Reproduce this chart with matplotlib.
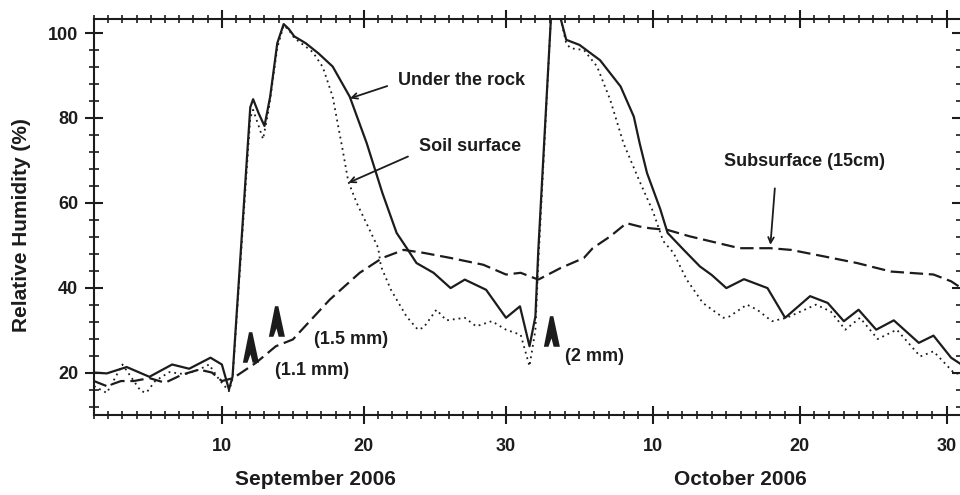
import numpy as np
import matplotlib
matplotlib.use("Agg")
import matplotlib.pyplot as plt
from matplotlib.path import Path
from matplotlib.ticker import FixedLocator, MultipleLocator
from matplotlib.transforms import blended_transform_factory

# day index: 1..30 = September, 31..61 = October
rock_day = [1.0, 1.9, 3.3, 4.9, 6.5, 7.7, 9.2, 10.0, 10.5, 10.75, 12.0, 12.2, 12.6, 13.0,
            13.4, 13.9, 14.35, 14.7, 15.1, 15.9, 16.8, 17.8, 19.0, 20.2, 21.3, 22.3, 23.0,
            23.7, 24.9, 26.1, 27.1, 28.6, 30.0, 30.95, 31.6, 32.0, 32.2, 33.05, 33.4, 33.75,
            34.1, 35.0, 36.4, 37.8, 38.7, 39.1, 39.6, 40.5, 41.0, 42.1, 43.2, 44.0, 45.0,
            46.2, 47.8, 49.0, 50.7, 51.9, 53.0, 54.0, 55.2, 56.4, 58.1, 59.1, 60.3, 61.0]
rock_rh = [20.0, 19.8, 21.3, 19.0, 21.9, 20.9, 23.5, 21.9, 16.0, 19.0, 82.5, 84.4, 81.0, 78.1,
           85.0, 97.6, 102.1, 101.0, 99.2, 97.6, 95.2, 92.1, 85.0, 74.0, 62.3, 52.9, 49.4,
           45.8, 43.5, 39.9, 41.9, 39.5, 32.9, 35.6, 26.2, 33.2, 48.9, 103.0, 106.0, 103.0,
           98.4, 97.2, 93.6, 87.4, 80.3, 74.0, 67.0, 58.5, 52.9, 48.9, 45.0, 43.0, 39.9,
           42.0, 39.9, 32.9, 38.0, 36.4, 32.1, 34.8, 30.1, 32.3, 27.0, 28.7, 23.5, 21.9]

soil_day = [1.0, 1.9, 3.0, 4.3, 4.7, 5.3, 6.3, 7.4, 8.4, 9.1, 9.8, 10.5, 10.75, 12.0, 12.2,
            12.6, 12.9, 13.3, 13.9, 14.35, 14.7, 15.1, 15.9, 16.4, 17.1, 17.8, 18.5, 18.9,
            19.5, 20.5, 21.0, 21.2, 21.9, 23.0, 23.8, 24.2, 25.1, 25.8, 27.1, 27.9, 29.0,
            30.0, 31.0, 31.6, 32.0, 32.2, 33.05, 33.4, 33.75, 34.1, 34.4, 35.3, 36.2, 37.1,
            38.0, 39.1, 40.0, 40.7, 41.4, 42.3, 43.4, 44.8, 45.2, 46.4, 47.1, 48.1, 49.1,
            51.1, 52.1, 53.1, 54.1, 55.3, 56.6, 58.2, 59.1, 60.5, 61.0]
soil_rh = [16.8, 15.2, 21.9, 15.6, 15.3, 18.0, 20.1, 19.6, 20.7, 21.9, 18.4, 15.6, 18.5, 80.0,
           81.9, 78.0, 75.0, 82.0, 96.5, 101.8, 100.8, 98.8, 96.8, 95.5, 92.0, 85.0, 72.5,
           65.0, 59.9, 52.9, 49.4, 45.0, 39.5, 33.2, 30.1, 30.6, 34.8, 32.3, 32.9, 30.9,
           32.1, 30.1, 28.9, 21.5, 30.0, 46.0, 103.0, 106.0, 103.0, 97.5, 96.4, 96.0, 92.1,
           84.2, 74.0, 65.0, 58.0, 51.0, 48.2, 41.9, 36.4, 32.9, 33.2, 36.0, 34.8, 32.1,
           32.9, 36.0, 34.4, 30.1, 32.9, 27.9, 30.1, 23.8, 25.0, 19.9, 19.6]

sub_day = [1.0, 1.9, 2.9, 3.8, 4.9, 6.0, 7.2, 8.4, 9.3, 10.0, 10.8, 12.4, 13.8, 15.0, 16.6,
           17.6, 19.7, 21.3, 22.8, 24.2, 26.1, 28.4, 30.0, 31.0, 32.2, 33.7, 35.3, 35.9,
           37.1, 38.2, 39.1, 39.8, 41.0, 42.5, 45.9, 48.0, 49.4, 51.6, 53.9, 56.2, 59.1,
           60.3, 61.0]
sub_rh = [18.0, 16.8, 18.0, 18.0, 18.7, 17.6, 19.5, 20.7, 20.0, 18.0, 18.7, 22.3, 26.2, 27.8,
          33.6, 37.2, 43.5, 47.0, 48.9, 48.2, 47.0, 45.4, 43.1, 43.5, 41.9, 44.6, 47.0, 49.3,
          52.1, 55.2, 54.4, 54.0, 53.6, 52.1, 49.3, 49.3, 48.9, 47.4, 45.8, 43.8, 43.1,
          41.5, 39.9]

tick_days = [10, 20, 30, 40, 50, 60]
tick_labels = ['10', '20', '30', '10', '20', '30']

# rain events, marker placed just above the curves
rain_day = [11.95, 13.78, 33.03]
rain_rh = [26.0, 32.1, 29.8]

INK = '#1c1c1c'
OCT_STRETCH = 1.034  # October days are spaced a bit wider than September ones


def fwd(d):
    d = np.asarray(d, dtype=float)
    return np.where(d <= 30, d, 30 + (d - 30) * OCT_STRETCH)


def inv(x):
    x = np.asarray(x, dtype=float)
    return np.where(x <= 30, x, 30 + (x - 30) / OCT_STRETCH)


plt.rcParams['font.family'] = ['Liberation Sans', 'DejaVu Sans']
plt.rcParams['font.weight'] = 'bold'

fig = plt.figure(figsize=(9.6, 4.95), dpi=100)
ax = fig.add_axes([94 / 960, 80 / 495, 867.4 / 960, 396 / 495])
ax.set_xscale('function', functions=(fwd, inv))

ax.plot(rock_day, rock_rh, color=INK, lw=1.6, solid_joinstyle='round')
ax.plot(soil_day, soil_rh, color=INK, lw=1.3, linestyle=(0, (1, 2.2)))
ax.plot(sub_day, sub_rh, color=INK, lw=1.6, linestyle=(0, (6, 2.6)))

ax.set_xlim(1, 61)
ax.set_ylim(10, 103.3)

ax.xaxis.set_major_locator(FixedLocator(tick_days))
ax.xaxis.set_minor_locator(MultipleLocator(1))
ax.set_xticklabels(tick_labels)
ax.yaxis.set_major_locator(MultipleLocator(20))
ax.yaxis.set_minor_locator(MultipleLocator(4))

for s in ax.spines.values():
    s.set_linewidth(1.5)
    s.set_color(INK)

ax.tick_params(which='both', direction='inout', top=True, right=True,
               color=INK, labelcolor=INK, labelsize=13)
ax.tick_params(axis='x', which='major', length=13, width=1.5, pad=10)
ax.tick_params(axis='x', which='minor', length=6, width=1.2)
ax.tick_params(axis='y', which='major', length=13, width=1.5, pad=5)
ax.tick_params(axis='y', which='minor', length=7, width=1.2)
for lbl in ax.get_xticklabels() + ax.get_yticklabels():
    lbl.set_fontweight('bold')

ax.set_ylabel('Relative Humidity (%)', fontsize=15, fontweight='bold', color=INK)
ax.yaxis.set_label_coords(-0.073, 0.48)

trans = blended_transform_factory(ax.transData, ax.transAxes)
ax.text(16.56, -0.164, 'September 2006', transform=trans, ha='center', va='center',
        fontsize=15, fontweight='bold', color=INK)
ax.text(45.96, -0.164, 'October 2006', transform=trans, ha='center', va='center',
        fontsize=15, fontweight='bold', color=INK)

# series labels with pointer arrows
arrow = dict(arrowstyle='->', color=INK, lw=1.3, shrinkA=0, shrinkB=0)
ax.text(26.9, 88.9, 'Under the rock', ha='center', va='center', fontsize=13, color=INK)
ax.annotate('', xy=(19.02, 84.6), xytext=(21.64, 87.5), arrowprops=arrow)
ax.text(27.5, 73.2, 'Soil surface', ha='center', va='center', fontsize=13, color=INK)
ax.annotate('', xy=(18.9, 64.7), xytext=(23.1, 70.9), arrowprops=arrow)
ax.text(50.35, 69.7, 'Subsurface (15cm)', ha='center', va='center', fontsize=13, color=INK)
ax.annotate('', xy=(48.0, 50.1), xytext=(48.3, 63.4), arrowprops=arrow)

# rainfall amounts
ax.text(19.09, 27.8, '(1.5 mm)', ha='center', va='center', fontsize=13, color=INK)
ax.text(16.35, 20.6, '(1.1 mm)', ha='center', va='center', fontsize=13, color=INK)
ax.text(36.0, 23.9, '(2 mm)', ha='center', va='center', fontsize=13, color=INK)

# heavy caret used to flag each rain event
caret = Path([(-0.5, -1.0), (-0.1, 1.0), (0.12, 1.0), (0.55, -1.0), (0.14, -1.0),
              (0.0, -0.45), (-0.2, -1.0), (-0.5, -1.0)],
             [Path.MOVETO] + [Path.LINETO] * 6 + [Path.CLOSEPOLY])
ax.plot(rain_day, rain_rh, linestyle='none', marker=caret, markersize=22,
        color=INK, markeredgewidth=0)

fig.savefig('out.png', dpi=100)
